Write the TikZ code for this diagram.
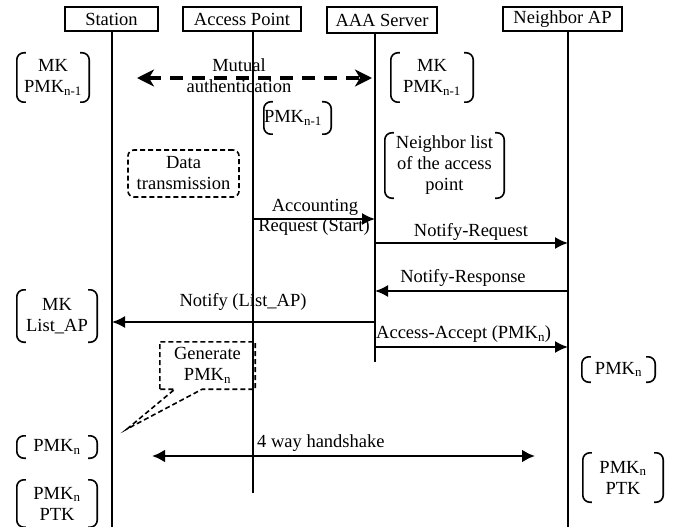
\documentclass[tikz,border=0pt]{standalone}
\usepackage{fontspec}
\setmainfont{Liberation Serif}
\usetikzlibrary{arrows.meta}
\tikzset{
  actor/.style={draw,line width=2pt,minimum height=24pt,inner sep=0pt},
  life/.style={line width=1.7pt},
  msg/.style={line width=1.8pt,-{Latex[length=13pt,width=12pt]}},
  lbl/.style={inner sep=0pt,align=center},
  keys/.style={inner sep=0pt,align=center},
  bracket/.style={line width=1.6pt,rounded corners=7pt},
  note/.style={draw,line width=1.6pt,dash pattern=on 5pt off 3pt,inner sep=0pt,align=center},
}
\newcommand\keybrackets[1]{%
  \draw[bracket] ([xshift=9pt]#1.north west) -- (#1.north west) -- (#1.south west) -- ([xshift=9pt]#1.south west);
  \draw[bracket] ([xshift=-9pt]#1.north east) -- (#1.north east) -- (#1.south east) -- ([xshift=-9pt]#1.south east);}
\begin{document}
\begin{tikzpicture}[x=1pt,y=-1pt,font=\fontsize{18.5}{21}\selectfont]
  \useasboundingbox (0,0) rectangle (673,527);
  % entities
  \node[actor,minimum width=93pt] (sta) at (111.5,19) {Station};
  \node[actor,minimum width=118pt] (ap) at (242,19) {Access Point};
  \node[actor,minimum width=110pt,minimum height=26pt] (aaa) at (382,20) {AAA Server};
  \node[actor,minimum width=119pt] (nb) at (562.5,19) {Neighbor AP};
  % lifelines
  \coordinate (stal) at (112,31);
  \coordinate (stae) at (112,527);
  \coordinate (apl) at (253,31);
  \coordinate (ape) at (253,493);
  \coordinate (aaal) at (375,33);
  \coordinate (aaae) at (375,362);
  \coordinate (nbl) at (568,31);
  \coordinate (nbe) at (568,527);
  \draw[life] (stal) -- (stae);
  \draw[life] (apl) -- (ape);
  \draw[life] (aaal) -- (aaae);
  \draw[life] (nbl) -- (nbe);
  % keys held
  \node[keys,minimum width=72pt,minimum height=49pt] (stakey1) at (53,77.5) {MK\\PMK\textsubscript{n-1}};
  \node[keys,text width=67pt,minimum height=32pt,align=left] (apkey1) at (297.5,118) {PMK\textsubscript{n-1}};
  \node[keys,minimum width=82pt,minimum height=49pt] (aaakey1) at (432,77.5) {MK\\PMK\textsubscript{n-1}};
  \node[keys,minimum width=119pt,minimum height=65pt] (aaalist) at (444.5,165.5) {Neighbor list\\of the access\\point};
  \node[keys,minimum width=80pt,minimum height=52pt] (stakey2) at (57,316) {MK\\List\_AP};
  \node[keys,minimum width=73pt,minimum height=25pt] (nbkey1) at (618.5,369.5) {PMK\textsubscript{n}};
  \node[keys,minimum width=80pt,minimum height=22pt] (stakey3) at (57,447) {PMK\textsubscript{n}};
  \node[keys,minimum width=80pt,minimum height=47pt] (stakey4) at (57,503.5) {PMK\textsubscript{n}\\PTK};
  \node[keys,minimum width=80pt,minimum height=49pt] (nbkey2) at (623,477.5) {PMK\textsubscript{n}\\PTK};
  \keybrackets{stakey1}
  \keybrackets{apkey1}
  \keybrackets{aaakey1}
  \keybrackets{aaalist}
  \keybrackets{stakey2}
  \keybrackets{nbkey1}
  \keybrackets{stakey3}
  \keybrackets{stakey4}
  \keybrackets{nbkey2}
  % mutual authentication
  \coordinate (authl) at (137,78);
  \coordinate (authr) at (372,78);
  \draw[line width=3.3pt,dash pattern=on 13pt off 9pt,{Stealth[length=17pt,width=17pt,inset=5pt]}-{Stealth[length=17pt,width=17pt,inset=5pt]}] (authl) -- (authr);
  \node[lbl] (authtxt) at (239,76) {Mutual\\authentication};
  % notes
  \node[note,rounded corners=6pt,minimum width=111pt,minimum height=47pt] (data) at (183.5,173.5) {Data\\transmission};
  \node[lbl,minimum width=95pt,minimum height=47pt] (gen) at (207.5,365.5) {Generate\\PMK\textsubscript{n}};
  \coordinate (gentip) at (127,429);
  \draw[note] (gen.south west) -- (gen.north west) -- (gen.north east) -- (gen.south east)
    -- ([xshift=-53pt]gen.south east) -- (gentip) -- ([xshift=15pt]gen.south west) -- cycle;
  % messages
  \draw[msg] (apl |- 0,219) -- (aaal |- 0,219);
  \node[lbl] (acc1) at (315,207) {Accounting};
  \node[lbl] (acc2) at (314,227) {Request (Start)};
  \draw[msg] (aaal |- 0,243) -- (nbl |- 0,243);
  \node[lbl] (nreq) at (471,232) {Notify-Request};
  \draw[msg] (nbl |- 0,291) -- (aaal |- 0,291);
  \node[lbl] (nres) at (463,278) {Notify-Response};
  \draw[msg] (aaal |- 0,322) -- (stal |- 0,322);
  \node[lbl] (nlist) at (243,302) {Notify (List\_AP)};
  \draw[msg] (aaal |- 0,347) -- (nbl |- 0,347);
  \node[lbl,anchor=west] (accept) at (376,334) {Access-Accept (PMK\textsubscript{n})};
  % handshake
  \coordinate (hsl) at (152,456);
  \coordinate (hsr) at (535,456);
  \draw[line width=2.6pt,{Latex[length=13pt,width=13pt]}-{Latex[length=13pt,width=13pt]}] (hsl) -- (hsr);
  \node[lbl,anchor=west] (hstxt) at (257,443) {4 way handshake};
\end{tikzpicture}
\end{document}
